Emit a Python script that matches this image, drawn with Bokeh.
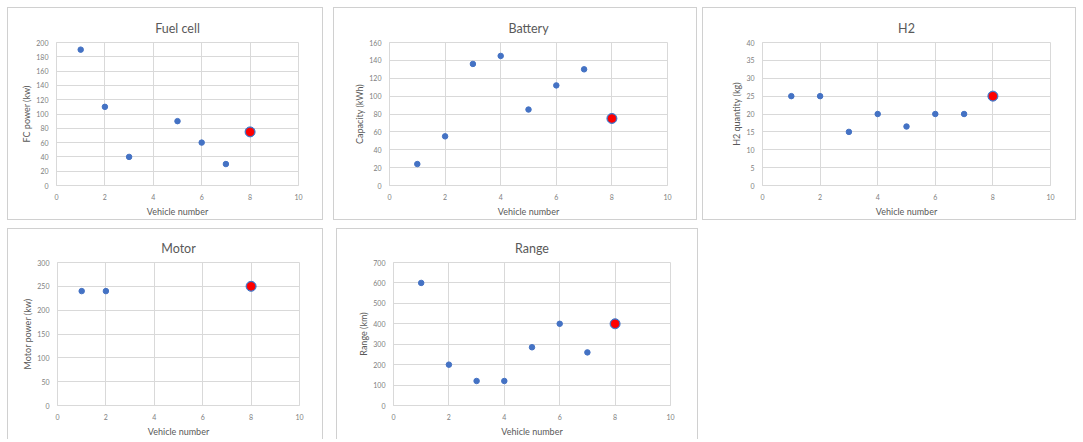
from bokeh.plotting import figure
from bokeh.layouts import row, column
from bokeh.models import Range1d, FixedTicker, Spacer
from bokeh.embed import file_html
from bokeh.resources import INLINE

# ---------------- data ----------------
x_ticks = [0, 2, 4, 6, 8, 10]

fc_vehicles = [1, 2, 3, 5, 6, 7]
fc_power = [190, 110, 40, 90, 60, 30]
fc_ticks = [0, 20, 40, 60, 80, 100, 120, 140, 160, 180, 200]

bat_vehicles = [1, 2, 3, 4, 5, 6, 7]
bat_capacity = [24, 55, 136, 145, 85, 112, 130]
bat_ticks = [0, 20, 40, 60, 80, 100, 120, 140, 160]

h2_vehicles = [1, 2, 3, 4, 5, 6, 7]
h2_quantity = [25, 25, 15, 20, 16.5, 20, 20]
h2_ticks = [0, 5, 10, 15, 20, 25, 30, 35, 40]

motor_vehicles = [1, 2]
motor_power = [240, 240]
motor_ticks = [0, 50, 100, 150, 200, 250, 300]

range_vehicles = [1, 2, 3, 4, 5, 6, 7]
range_km = [600, 200, 120, 120, 285, 400, 260]
range_ticks = [0, 100, 200, 300, 400, 500, 600, 700]

highlight_vehicle = 8
highlight_fc = 75
highlight_bat = 75
highlight_h2 = 25
highlight_motor = 250
highlight_range = 400

# ---------------- style ----------------
FONT = "Lato"
BLUE = "#4472C4"
RED = "#FF0000"
GRID = "#d9d9d9"
BORDER = "#d0d0d0"


def panel(title, xs, ys, hx, hy, yticks, ylabel, outer_w, outer_h,
          left, top, fw, fh, bottom_border=True):
    inner_w = outer_w - 2
    inner_h = outer_h - (2 if bottom_border else 1)
    border_css = f"1px solid {BORDER}"
    styles = {"border-left": border_css, "border-right": border_css,
              "border-top": border_css}
    if bottom_border:
        styles["border-bottom"] = border_css
    p = figure(width=inner_w, height=inner_h,
               x_range=Range1d(0, 10), y_range=Range1d(yticks[0], yticks[-1]),
               output_backend="svg", toolbar_location=None,
               min_border_left=left, min_border_right=inner_w - left - fw,
               min_border_top=top, min_border_bottom=inner_h - top - fh,
               background_fill_color="white", border_fill_color="white",
               outline_line_color=GRID, styles=styles)
    p.title.text = title
    p.title.align = "center"
    p.title.text_font = FONT
    p.title.text_font_size = "12.5px"
    p.title.text_font_style = "normal"
    p.title.text_color = "#595959"
    if "standoff" in p.title.properties():
        p.title.standoff = 14

    for ax, ticks in ((p.xaxis[0], x_ticks), (p.yaxis[0], yticks)):
        ax.ticker = FixedTicker(ticks=ticks)
        ax.major_tick_line_color = None
        ax.minor_tick_line_color = None
        ax.major_tick_out = 0
        ax.major_tick_in = 0
        ax.minor_tick_out = 0
        ax.minor_tick_in = 0
        ax.axis_line_color = GRID
        ax.major_label_text_font = FONT
        ax.major_label_text_font_size = "7px"
        ax.major_label_text_color = "#808080"
        ax.axis_label_text_font = FONT
        ax.axis_label_text_font_size = "9px"
        ax.axis_label_text_font_style = "normal"
        ax.axis_label_text_color = "#595959"
    p.xaxis.axis_label = "Vehicle number"
    p.yaxis.axis_label = ylabel
    p.xaxis.major_label_standoff = 8
    p.yaxis.major_label_standoff = 8
    p.xaxis.axis_label_standoff = 3
    p.yaxis.axis_label_standoff = 1

    p.xgrid.ticker = FixedTicker(ticks=x_ticks)
    p.ygrid.ticker = FixedTicker(ticks=yticks)
    p.xgrid.grid_line_color = GRID
    p.ygrid.grid_line_color = GRID

    p.scatter(xs, ys, size=5.5, color=BLUE)
    p.scatter([hx], [hy], size=10, color=BLUE)
    p.scatter([hx], [hy], size=7.5, color=RED)
    return p


p1 = panel("Fuel cell", fc_vehicles, fc_power, highlight_vehicle, highlight_fc,
           fc_ticks, "FC power (kw)", 318, 215, 48, 34, 242, 143)
p2 = panel("Battery", bat_vehicles, bat_capacity, highlight_vehicle, highlight_bat,
           bat_ticks, "Capacity (kWh)", 366, 215, 55, 34, 278, 143)
p3 = panel("H2", h2_vehicles, h2_quantity, highlight_vehicle, highlight_h2,
           h2_ticks, "H2 quantity (kg)", 376, 215, 59, 34, 288, 143)
p4 = panel("Motor", motor_vehicles, motor_power, highlight_vehicle, highlight_motor,
           motor_ticks, "Motor power (kw)", 318, 212, 49, 33, 242, 143,
           bottom_border=False)
p5 = panel("Range", range_vehicles, range_km, highlight_vehicle, highlight_range,
           range_ticks, "Range (km)", 364, 212, 56, 33, 277, 143,
           bottom_border=False)

top_row = row(Spacer(width=7), p1, Spacer(width=10), p2, Spacer(width=5), p3)
bottom_row = row(Spacer(width=7), p4, Spacer(width=13), p5)
layout = column(Spacer(height=7), top_row, Spacer(height=8), bottom_row)

open("out.html", "w").write(file_html(layout, INLINE))
